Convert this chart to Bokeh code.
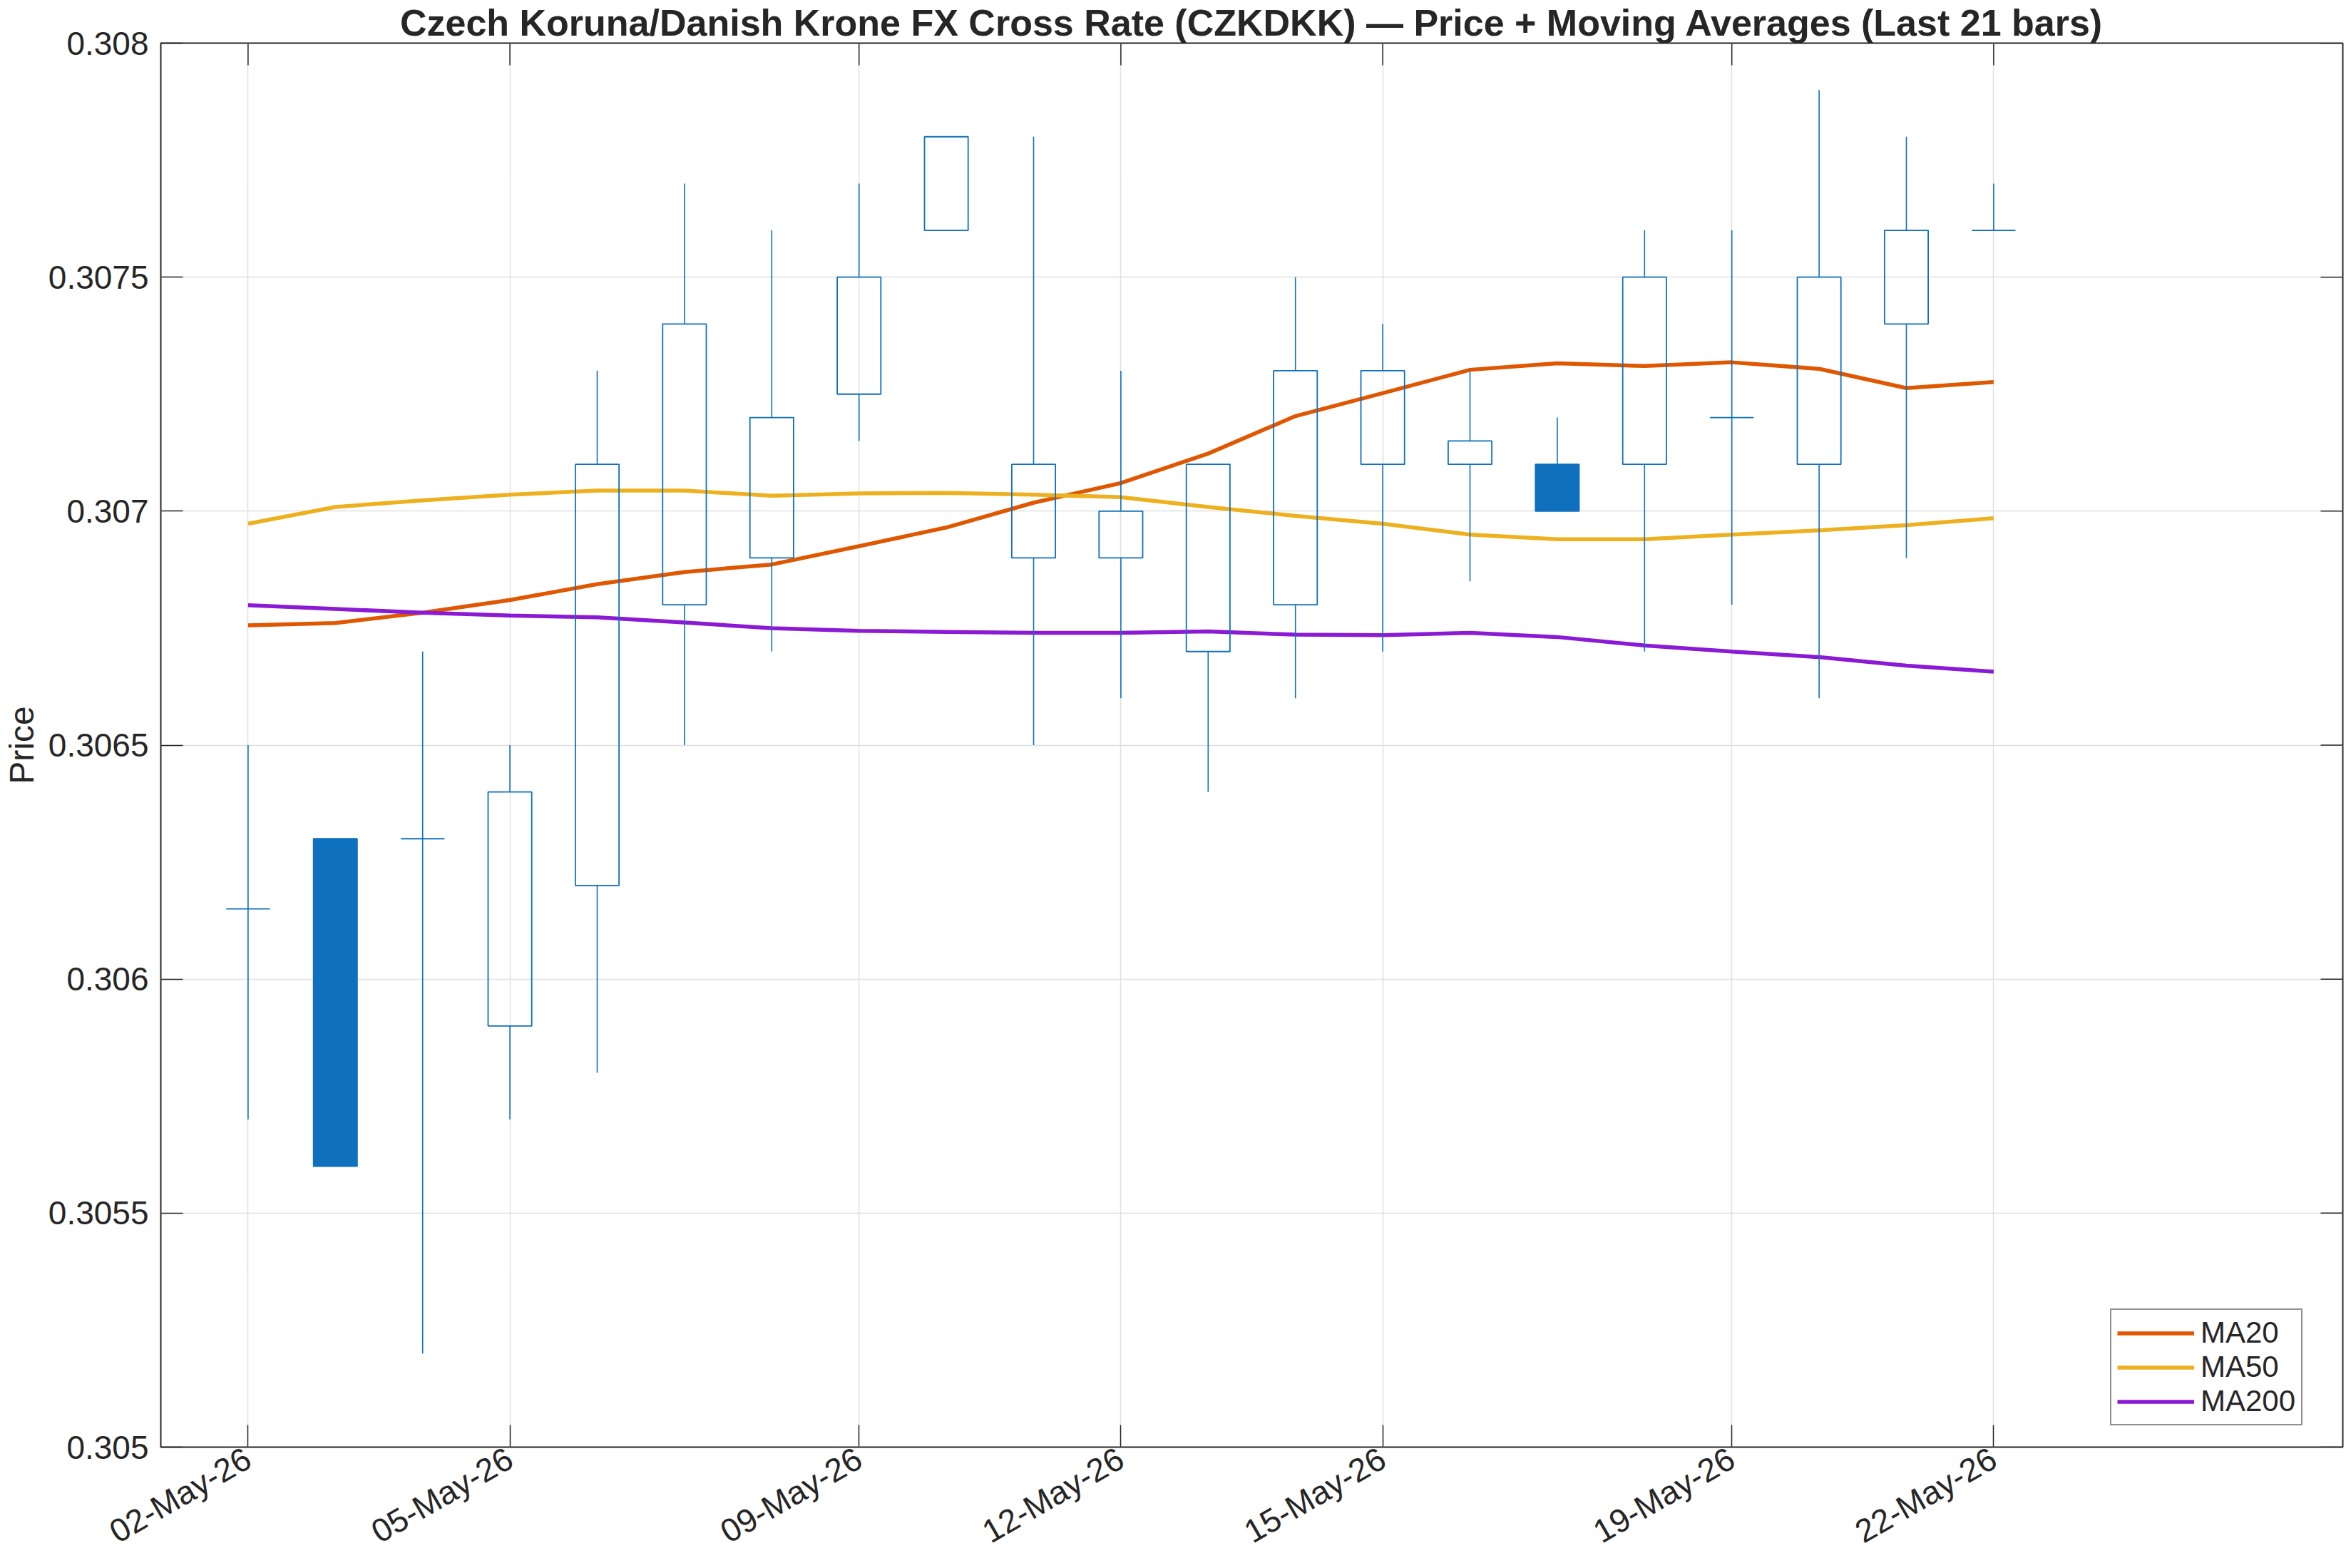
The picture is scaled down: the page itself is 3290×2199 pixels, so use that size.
import math

from bokeh.plotting import figure
from bokeh.models import (ColumnDataSource, FixedTicker, Grid, Legend,
                          LegendItem, LinearAxis, Range1d)
from bokeh.embed import file_html
from bokeh.resources import INLINE

# --- data -------------------------------------------------------------------
dates = ["02-May-26", "03-May-26", "04-May-26", "05-May-26", "06-May-26",
         "07-May-26", "08-May-26", "09-May-26", "10-May-26", "11-May-26",
         "12-May-26", "13-May-26", "14-May-26", "15-May-26", "16-May-26",
         "17-May-26", "18-May-26", "19-May-26", "20-May-26", "21-May-26",
         "22-May-26"]

opens = [0.30615, 0.3063, 0.3063, 0.3059, 0.3062, 0.3068, 0.3069, 0.30725,
         0.3076, 0.3069, 0.3069, 0.3067, 0.3068, 0.3071, 0.3071, 0.3071,
         0.3071, 0.3072, 0.3071, 0.3074, 0.3076]
highs = [0.3065, 0.3063, 0.3067, 0.3065, 0.3073, 0.3077, 0.3076, 0.3077,
         0.3078, 0.3078, 0.3073, 0.3071, 0.3075, 0.3074, 0.3073, 0.3072,
         0.3076, 0.3076, 0.3079, 0.3078, 0.3077]
lows = [0.3057, 0.3056, 0.3052, 0.3057, 0.3058, 0.3065, 0.3067, 0.30715,
        0.3076, 0.3065, 0.3066, 0.3064, 0.3066, 0.3067, 0.30685, 0.3070,
        0.3067, 0.3068, 0.3066, 0.3069, 0.3076]
closes = [0.30615, 0.3056, 0.3063, 0.3064, 0.3071, 0.3074, 0.3072, 0.3075,
          0.3078, 0.3071, 0.3070, 0.3071, 0.3073, 0.3073, 0.30715, 0.3070,
          0.3075, 0.3072, 0.3075, 0.3076, 0.3076]

ma20 = [0.306756, 0.306761, 0.306783, 0.306810, 0.306844, 0.306870, 0.306886,
        0.306925, 0.306965, 0.307018, 0.307060, 0.307123, 0.307203, 0.307252,
        0.307302, 0.307316, 0.307310, 0.307318, 0.307304, 0.307263, 0.307276]
ma50 = [0.306973, 0.307009, 0.307023, 0.307035, 0.307044, 0.307044, 0.307033,
        0.307038, 0.307039, 0.307035, 0.307030, 0.307009, 0.306990, 0.306973,
        0.306950, 0.306940, 0.306940, 0.306950, 0.306959, 0.306970, 0.306985]
ma200 = [0.306799, 0.306791, 0.306783, 0.306777, 0.306773, 0.306762, 0.306750,
         0.306744, 0.306742, 0.306740, 0.306740, 0.306743, 0.306736, 0.306735,
         0.306740, 0.306731, 0.306713, 0.306700, 0.306688, 0.306670, 0.306657]

x_tick_positions = [0, 3, 7, 10, 13, 17, 20]
x_tick_labels = [dates[i] for i in x_tick_positions]
y_ticks = [0.305, 0.3055, 0.306, 0.3065, 0.307, 0.3075, 0.308]
y_tick_labels = ["0.305", "0.3055", "0.306", "0.3065", "0.307", "0.3075", "0.308"]

x_lo, x_hi = -1, 24
y_lo, y_hi = 0.305, 0.308

title_text = ("Czech Koruna/Danish Krone FX Cross Rate (CZKDKK) \u2014 "
              "Price + Moving Averages (Last 21 bars)")

# --- styling ------------------------------------------------------------------
FONT = "Liberation Sans"
INK = "#262626"
CANDLE = "#0F70BD"
C_MA20 = "#DF5700"
C_MA50 = "#EDB120"
C_MA200 = "#8A1AD4"
TICK_LEN = 31

# --- derived candle geometry --------------------------------------------------
idx = list(range(len(dates)))
body_top = [max(o, c) for o, c in zip(opens, closes)]
body_bot = [min(o, c) for o, c in zip(opens, closes)]
rising = [c >= o for o, c in zip(opens, closes)]

up = ColumnDataSource(dict(
    x=[i for i in idx if rising[i]],
    top=[body_top[i] for i in idx if rising[i]],
    bottom=[body_bot[i] for i in idx if rising[i]],
))
down = ColumnDataSource(dict(
    x=[i for i in idx if not rising[i]],
    top=[body_top[i] for i in idx if not rising[i]],
    bottom=[body_bot[i] for i in idx if not rising[i]],
))
wicks = ColumnDataSource(dict(
    x=idx + idx,
    y0=highs + body_bot,
    y1=body_top + lows,
))

# --- figure -------------------------------------------------------------------
p = figure(width=3290, height=2199, output_backend="svg", toolbar_location=None,
           x_range=Range1d(x_lo, x_hi), y_range=Range1d(y_lo, y_hi),
           x_axis_type=None, y_axis_type=None,
           min_border_left=224, min_border_right=5,
           min_border_top=56, min_border_bottom=169)
p.background_fill_color = "white"
p.border_fill_color = "white"
p.outline_line_color = INK
p.outline_line_width = 2

xticker = FixedTicker(ticks=x_tick_positions)
yticker = FixedTicker(ticks=y_ticks)

# grid lines at the tick positions
p.center = [r for r in p.center if not isinstance(r, Grid)]
for dim, tk in ((0, xticker), (1, yticker)):
    p.add_layout(Grid(dimension=dim, ticker=tk, grid_line_color="#E0E0E0",
                      grid_line_width=1.5))


def style_axis(ax):
    ax.axis_line_color = None
    ax.major_tick_in = TICK_LEN
    ax.major_tick_out = 0
    ax.major_tick_line_color = INK
    ax.major_tick_line_width = 1.5
    ax.minor_tick_line_color = None
    ax.major_label_text_font = FONT
    ax.major_label_text_color = INK
    ax.major_label_text_font_size = "46px"


# x axis: slanted date labels
bottom_ax = LinearAxis(
    ticker=xticker,
    major_label_overrides={int(t): lab for t, lab in zip(x_tick_positions, x_tick_labels)})
style_axis(bottom_ax)
bottom_ax.major_label_orientation = math.pi / 6
bottom_ax.major_label_standoff = 12
p.add_layout(bottom_ax, "below")

# y axis with its labels and title
left_ax = LinearAxis(
    ticker=yticker, axis_label="Price",
    major_label_overrides={float(t): lab for t, lab in zip(y_ticks, y_tick_labels)})
style_axis(left_ax)
left_ax.major_label_standoff = 17
left_ax.axis_label_text_font = FONT
left_ax.axis_label_text_font_size = "48px"
left_ax.axis_label_text_font_style = "normal"
left_ax.axis_label_text_color = INK
left_ax.axis_label_standoff = 8
p.add_layout(left_ax, "left")

# inward tick marks along the top and right edges of the box
p.ray(x=x_tick_positions, y=[y_hi] * len(x_tick_positions), length=TICK_LEN,
      length_units="screen", angle=-math.pi / 2, line_color=INK, line_width=1.5)
p.ray(x=[x_hi] * len(y_ticks), y=y_ticks, length=TICK_LEN,
      length_units="screen", angle=math.pi, line_color=INK, line_width=1.5)

p.title.text = title_text
p.title.align = "center"
p.title.text_font = FONT
p.title.text_font_size = "52px"
p.title.text_font_style = "bold"
p.title.text_color = INK
p.title.standoff = 0

# --- moving averages ----------------------------------------------------------
r20 = p.line(idx, ma20, line_color=C_MA20, line_width=5.5)
r50 = p.line(idx, ma50, line_color=C_MA50, line_width=5.5)
r200 = p.line(idx, ma200, line_color=C_MA200, line_width=5.5)

# --- candles ------------------------------------------------------------------
p.segment(x0="x", y0="y0", x1="x", y1="y1", source=wicks,
          line_color=CANDLE, line_width=1.6)
p.vbar(x="x", top="top", bottom="bottom", width=0.5, source=up,
       fill_color=None, line_color=CANDLE, line_width=1.8)
p.vbar(x="x", top="top", bottom="bottom", width=0.5, source=down,
       fill_color=CANDLE, line_color=CANDLE, line_width=1.8)

# --- legend -------------------------------------------------------------------
legend = Legend(items=[LegendItem(label="MA20", renderers=[r20]),
                       LegendItem(label="MA50", renderers=[r50]),
                       LegendItem(label="MA200", renderers=[r200])],
                location=(2734, 30))
legend.label_text_font = FONT
legend.label_text_font_size = "42px"
legend.label_text_color = INK
legend.glyph_width = 108
legend.glyph_height = 47
legend.label_height = 47
legend.label_standoff = 9
legend.spacing = 0
legend.padding = 8
legend.margin = 0
legend.border_line_color = INK
legend.border_line_width = 2
legend.background_fill_color = "white"
legend.background_fill_alpha = 1.0
p.add_layout(legend, "center")

open("out.html", "w").write(file_html(p, INLINE))
